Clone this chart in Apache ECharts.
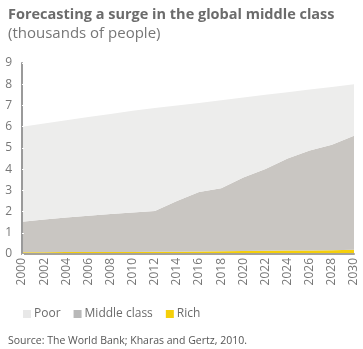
<!DOCTYPE html>
<html>
<head>
<meta charset="utf-8">
<script src="https://cdn.jsdelivr.net/npm/echarts@6/dist/echarts.min.js"></script>
<style>
  html, body { margin: 0; padding: 0; background: #fff; }
  #chart { width: 363px; height: 349px; }
</style>
</head>
<body>
<div id="chart"></div>
<script>
// Years on the horizontal axis
const years = ['2000','2002','2004','2006','2008','2010','2012','2014','2016','2018','2020','2022','2024','2026','2028','2030'];
// Stacked layers (thousands of people), bottom to top
const rich   = [0.08, 0.08, 0.09, 0.09, 0.10, 0.10, 0.11, 0.11, 0.12, 0.13, 0.14, 0.15, 0.16, 0.17, 0.18, 0.20];
const middle = [1.44, 1.54, 1.63, 1.71, 1.78, 1.86, 1.92, 2.39, 2.80, 2.97, 3.46, 3.85, 4.34, 4.71, 4.97, 5.37];
const poor   = [4.48, 4.53, 4.58, 4.65, 4.72, 4.79, 4.85, 4.50, 4.20, 4.15, 3.77, 3.50, 3.12, 2.87, 2.72, 2.43];
const yTicks = [0, 9, 1];

const FONT = '"Open Sans", sans-serif';
const chart = echarts.init(document.getElementById('chart'));

function layer(name, data, color) {
  return {
    name, type: 'line', stack: 'total', data,
    symbol: 'none', smooth: false,
    lineStyle: { width: 0 },
    areaStyle: { color, opacity: 1 },
    itemStyle: { color }
  };
}

chart.setOption({
  animation: false,
  title: [
    { text: 'Forecasting a surge in the global middle class', left: 3, top: 2,
      textStyle: { fontFamily: FONT, fontWeight: 'bold', fontSize: 14.5, color: '#6b6b6b' } },
    { text: '(thousands of people)', left: 3, top: 21,
      textStyle: { fontFamily: FONT, fontWeight: 'normal', fontSize: 15, color: '#767676' } },
    { text: 'Source: The World Bank; Kharas and Gertz, 2010.', left: 3, top: 331,
      textStyle: { fontFamily: FONT, fontWeight: 'normal', fontSize: 10.5, color: '#555' } }
  ],
  legend: {
    left: 18, top: 303, itemWidth: 8, itemHeight: 8, itemGap: 13,
    icon: 'rect',
    textStyle: { fontFamily: FONT, fontSize: 12, color: '#6b6b6b', padding: [0, 0, 0, -2] },
    data: [
      { name: 'Poor', itemStyle: { color: '#e8e8e8' } },
      { name: 'Middle class', itemStyle: { color: '#b8b8b8' } },
      { name: 'Rich', itemStyle: { color: '#f5cf0a' } }
    ]
  },
  grid: { left: 22, right: 9, top: 63, bottom: 95, containLabel: false },
  xAxis: {
    type: 'category', data: years, boundaryGap: false,
    axisLine: { lineStyle: { color: '#a5a29b', width: 2 } },
    axisTick: { show: false },
    axisLabel: { rotate: 90, fontFamily: FONT, fontSize: 12, color: '#777', margin: 4, interval: 0 },
    z: 10
  },
  yAxis: {
    type: 'value', min: yTicks[0], max: yTicks[1], interval: yTicks[2],
    splitLine: { show: false },
    axisLine: { show: true, lineStyle: { color: '#9a9a9a', width: 2 } },
    axisTick: { show: true, inside: true, length: 2, lineStyle: { color: '#fff', width: 1 } },
    axisLabel: { fontFamily: FONT, fontSize: 12, color: '#777', margin: 10 },
    z: 10
  },
  series: [
    layer('Rich', rich, '#f5cf0a'),
    layer('Middle class', middle, '#c9c6c2'),
    layer('Poor', poor, '#ededec')
  ]
});
</script>
</body>
</html>
